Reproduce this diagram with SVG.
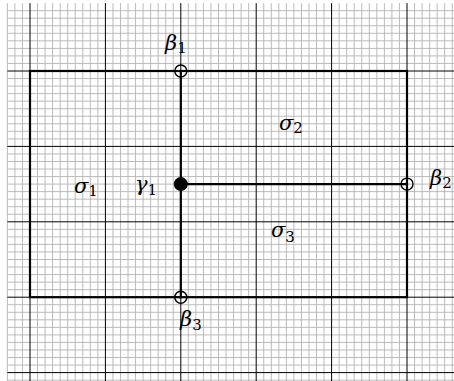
<svg xmlns="http://www.w3.org/2000/svg" width="454" height="381" viewBox="0 0 454 381">
<style>
.fine{fill:none;stroke:#b3b3b3;stroke-width:0.9;vector-effect:non-scaling-stroke}
.major{fill:none;stroke:#000;stroke-width:1;vector-effect:non-scaling-stroke}
.thick{fill:none;stroke:#000;stroke-width:2.2;stroke-linecap:square}
.open{fill:none;stroke:#000;stroke-width:1.4}
.dot{fill:#000}
.lbl{font-family:"DejaVu Serif","Liberation Serif",serif;font-style:italic;font-size:21px;fill:#000}
.sub{font-style:normal;font-size:15px}
</style>
<rect width="454" height="381" fill="#fff"/>
<g id="grid" transform="translate(7.38,3.14) scale(7.54)">
<path class="fine" d="M0 0V50.2M1 0V50.2M2 0V50.2M4 0V50.2M5 0V50.2M6 0V50.2M7 0V50.2M8 0V50.2M9 0V50.2M10 0V50.2M11 0V50.2M12 0V50.2M14 0V50.2M15 0V50.2M16 0V50.2M17 0V50.2M18 0V50.2M19 0V50.2M20 0V50.2M21 0V50.2M22 0V50.2M24 0V50.2M25 0V50.2M26 0V50.2M27 0V50.2M28 0V50.2M29 0V50.2M30 0V50.2M31 0V50.2M32 0V50.2M34 0V50.2M35 0V50.2M36 0V50.2M37 0V50.2M38 0V50.2M39 0V50.2M40 0V50.2M41 0V50.2M42 0V50.2M44 0V50.2M45 0V50.2M46 0V50.2M47 0V50.2M48 0V50.2M49 0V50.2M50 0V50.2M51 0V50.2M52 0V50.2M54 0V50.2M55 0V50.2M56 0V50.2M57 0V50.2M58 0V50.2M59 0V50.2
M0 1H59.3M0 2H59.3M0 3H59.3M0 4H59.3M0 5H59.3M0 6H59.3M0 7H59.3M0 8H59.3M0 10H59.3M0 11H59.3M0 12H59.3M0 13H59.3M0 14H59.3M0 15H59.3M0 16H59.3M0 17H59.3M0 18H59.3M0 20H59.3M0 21H59.3M0 22H59.3M0 23H59.3M0 24H59.3M0 25H59.3M0 26H59.3M0 27H59.3M0 28H59.3M0 30H59.3M0 31H59.3M0 32H59.3M0 33H59.3M0 34H59.3M0 35H59.3M0 36H59.3M0 37H59.3M0 38H59.3M0 40H59.3M0 41H59.3M0 42H59.3M0 43H59.3M0 44H59.3M0 45H59.3M0 46H59.3M0 47H59.3M0 48H59.3M0 50H59.3"/>
<path class="major" d="M3 0V50.2M13 0V50.2M23 0V50.2M33 0V50.2M43 0V50.2M53 0V50.2M0 9H59.3M0 19H59.3M0 29H59.3M0 39H59.3M0 49H59.3"/>
</g>
<g id="connectors">
<rect class="thick" x="30" y="71" width="377" height="226.2"/>
<path class="thick" d="M180.8 71V297.2"/>
<path class="thick" d="M180.8 184.1H407"/>
</g>
<g id="beta1"><circle class="open" cx="180.8" cy="71" r="6"/><text class="lbl" x="165" y="50">β<tspan class="sub" dy="3">1</tspan></text></g>
<g id="beta2"><circle class="open" cx="407" cy="184.1" r="6"/><text class="lbl" x="430" y="185">β<tspan class="sub" dy="3">2</tspan></text></g>
<g id="beta3"><circle class="open" cx="180.8" cy="297.2" r="6"/><text class="lbl" x="180" y="326">β<tspan class="sub" dy="4">3</tspan></text></g>
<g id="gamma1"><circle class="dot" cx="180.8" cy="184.1" r="7"/><text class="lbl" x="135" y="191">γ<tspan class="sub" dy="4">1</tspan></text></g>
<g id="sigma1"><text class="lbl" x="74" y="193">σ<tspan class="sub" dy="3">1</tspan></text></g>
<g id="sigma2"><text class="lbl" x="279" y="130">σ<tspan class="sub" dy="3">2</tspan></text></g>
<g id="sigma3"><text class="lbl" x="271" y="237">σ<tspan class="sub" dy="5">3</tspan></text></g>
</svg>
